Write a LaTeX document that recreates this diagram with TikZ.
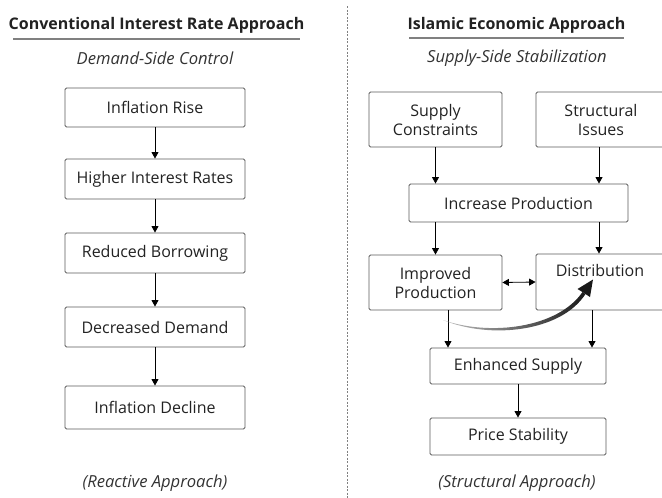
\documentclass[tikz,border=0pt]{standalone}
\usepackage{fontspec}
\setmainfont{Open Sans}
\usetikzlibrary{arrows.meta}
\definecolor{ink}{HTML}{222222}
\definecolor{frame}{HTML}{5A5A5A}
\tikzset{
	box/.style={draw=frame, line width=0.9, rounded corners=1.5, inner sep=2, align=center, text=ink, font=\fontsize{16}{19}\selectfont},
	flow/.style={-{Triangle[length=6.5,width=7]}, line width=0.8, draw=black},
	heading/.style={font=\fontsize{16}{19}\selectfont\bfseries, text=ink},
	subhead/.style={font=\fontsize{16.6}{19}\selectfont\itshape, text=black!80},
}

\begin{document}
\begin{tikzpicture}[x=1pt, y=-1pt]
			%%%%% FRAME %%%%%
			\useasboundingbox (0, 0) rectangle (662, 498);
			\clip (0, 0) rectangle (662, 498);
			
			\draw[black!50, line width=0.9, dash pattern=on 2 off 1.5] (347, 6) -- (347, 498);
			
			%%%%% LEFT: CONVENTIONAL %%%%%
			\node[heading] (lhead) at (156.5, 25) {Conventional Interest Rate Approach};
			\draw[black!50, line width=1.4] (13, 39) -- (300, 39);
			\node[subhead] (lsub) at (155, 58) {Demand-Side Control};
			
			\node[box, minimum width=180, minimum height=39] (rise) at (155, 107.5) {Inflation Rise};
			\node[box, minimum width=180, minimum height=40] (rates) at (155, 179) {Higher Interest Rates};
			\node[box, minimum width=180, minimum height=40] (borrow) at (155, 253) {Reduced Borrowing};
			\node[box, minimum width=180, minimum height=40] (demand) at (155, 327) {Decreased Demand};
			\node[box, minimum width=180, minimum height=43] (decline) at (155, 407.5) {Inflation Decline};
			
			\draw[flow] (rise) -- (rates);
			\draw[flow] (rates) -- (borrow);
			\draw[flow] (borrow) -- (demand);
			\draw[flow] (demand) -- (decline);
			
			\node[subhead] (lfoot) at (155, 483) {(Reactive Approach)};
			
			%%%%% RIGHT: ISLAMIC %%%%%
			\node[heading] (rhead) at (516.5, 25) {Islamic Economic Approach};
			\draw[black!50, line width=1.4] (409, 38) -- (624, 38);
			\node[subhead] (rsub) at (517, 58) {Supply-Side Stabilization};
			
			\node[box, minimum width=133, minimum height=55] (supply) at (435.5, 119.5) {Supply\\Constraints};
			\node[box, minimum width=130, minimum height=55] (issues) at (601, 119.5) {Structural\\Issues};
			\node[box, minimum width=219, minimum height=38] (increase) at (518.5, 203) {Increase Production};
			\node[box, minimum width=133, minimum height=55] (improved) at (435.5, 282.5) {Improved\\Production};
			\node[box, minimum width=130, minimum height=56] (distrib) at (601, 282) {};
			\node[text=ink, font=\fontsize{16}{19}\selectfont] (distlbl) at (600, 270) {Distribution};
			\node[box, minimum width=176, minimum height=36] (enhanced) at (518, 366) {Enhanced Supply};
			\node[box, minimum width=176, minimum height=37] (stable) at (518, 436.5) {Price Stability};
			
			\draw[flow] (supply) -- (supply |- increase.north);
			\draw[flow] ([xshift=-2]issues.south) -- ([xshift=-2]issues.south |- increase.north);
			\draw[flow] (increase.south -| improved) -- (improved.north);
			\draw[flow] ([xshift=-2]increase.south -| distrib) -- ([xshift=-2]distrib.north);
			\draw[{Triangle[length=6.5,width=7]}-{Triangle[length=6.5,width=7]}, line width=0.8] (improved.east) -- (distrib.west);
			\draw[flow] ([xshift=12.5]improved.south) -- ([xshift=12.5]improved.south |- enhanced.north);
			\draw[flow] ([xshift=-9]distrib.south) -- ([xshift=-9]distrib.south |- enhanced.north);
			\draw[flow] (enhanced) -- (stable);
			
			% sweeping arrow, thin at the start and heavy at the head
			\coordinate (swstart) at (443, 320);
			\coordinate (swbase) at (584, 293);
			\coordinate (swtip) at (593, 279.5);
			\shade[left color=black!25, right color=black!90]
				(swstart) .. controls (490, 336.5) and (558, 328) .. (582.5, 292)
				-- (585.5, 294) .. controls (561, 332) and (490, 339.5) .. (swstart) -- cycle;
			\fill[black!90] (swtip) -- (590, 297) -- (584, 293) -- (577.5, 289) -- cycle;
			
			\node[subhead] (rfoot) at (517, 483) {(Structural Approach)};
			
			%%%%% END %%%%%
\end{tikzpicture}
\end{document}
